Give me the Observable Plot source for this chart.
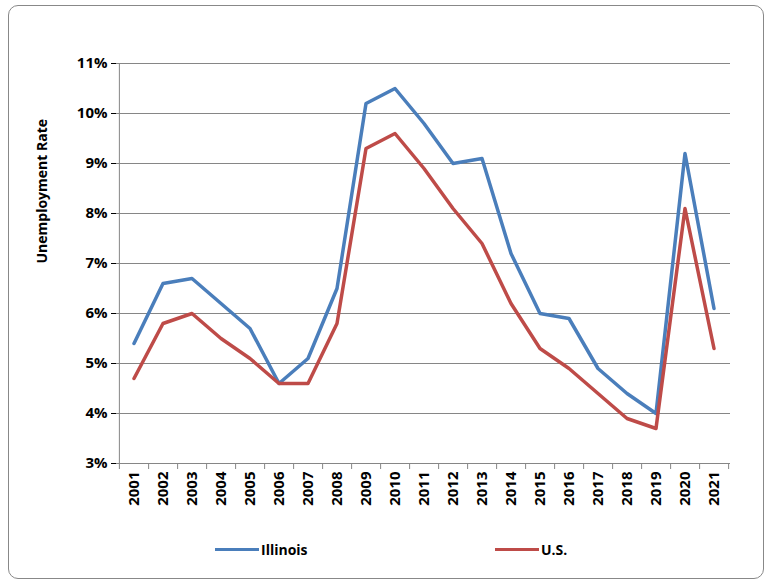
<!DOCTYPE html>
<html><head><meta charset="utf-8">
<script src="https://cdn.jsdelivr.net/npm/d3@7"></script>
<script src="https://cdn.jsdelivr.net/npm/@observablehq/plot@0.6"></script>
<style>
body{margin:0;background:#fff;font-family:"Open Sans","Liberation Sans",Arial,sans-serif;}
#wrap{position:relative;width:770px;height:585px;}
#frame{position:absolute;left:8px;top:5px;width:756px;height:574px;border:1px solid #888;border-radius:10px;box-sizing:border-box;}
.leg{position:absolute;top:540px;font-size:14px;font-weight:bold;display:flex;align-items:center;}
.leg span.sw{display:inline-block;width:44px;height:3px;margin-right:2px;}
</style></head><body>
<div id="wrap"><div id="frame"></div></div>
<script>
const years = d3.range(2001, 2022).map(String);
const illinois = [5.4,6.6,6.7,6.2,5.7,4.6,5.1,6.5,10.2,10.5,9.8,9.0,9.1,7.2,6.0,5.9,4.9,4.4,4.0,9.2,6.1];
const us = [4.7,5.8,6.0,5.5,5.1,4.6,4.6,5.8,9.3,9.6,8.9,8.1,7.4,6.2,5.3,4.9,4.4,3.9,3.7,8.1,5.3];
const series = [
  {name:"Illinois", values:illinois, color:"#4a7ebb"},
  {name:"U.S.", values:us, color:"#be4b48"}
];
const rows = series.flatMap(s => s.values.map((v,i) => ({year:years[i], value:v, name:s.name})));
const half = 614/21/2;

const svg = Plot.plot({
  width:770, height:585,
  marginLeft:116, marginRight:40, marginTop:63, marginBottom:122,
  style:{fontFamily:"'Open Sans','Liberation Sans',Arial,sans-serif", fontSize:"15px", fontWeight:"bold", color:"#000", background:"transparent", overflow:"visible"},
  x:{type:"band", domain:years, padding:0, label:null},
  y:{domain:[3,11], ticks:d3.range(3,12), label:null},
  color:{domain:series.map(s=>s.name), range:series.map(s=>s.color)},
  marks:[
    Plot.gridY(d3.range(4,12), {stroke:"#868686", strokeOpacity:1, strokeWidth:1}),
    Plot.axisY({ticks:d3.range(3,12), tickFormat:d=>d+"%", tickSize:5, fontSize:15, fontWeight:"bold"}),
    Plot.ruleX([0], {x:()=>years[0], dx:-half, y1:3, y2:11, stroke:"#868686", clip:false}),
    Plot.ruleY([3], {stroke:"#868686"}),
    Plot.ruleX(years, {x:d=>d, dx:half, y1:3, y2:2.88, stroke:"#868686"}),
    Plot.ruleX([0], {x:()=>years[0], dx:-half, y1:3, y2:2.88, stroke:"#868686"}),
    Plot.axisX({tickSize:0, tickRotate:-90, tickPadding:8, fontSize:15, fontWeight:"bold", textAnchor:"end"}),
    Plot.line(rows, {x:"year", y:"value", z:"name", stroke:"name", strokeWidth:3.5, curve:"linear"}),
    Plot.text(["Unemployment Rate"], {frameAnchor:"left", dx:-74, rotate:-90, fontSize:14, fontWeight:"bold"})
  ]
});
const wrap = document.getElementById("wrap");
svg.style.position="absolute"; svg.style.left="0"; svg.style.top="0";
wrap.appendChild(svg);
const legX = [215, 495];
series.forEach((s,i)=>{
  const d = document.createElement("div");
  d.className="leg"; d.style.left=legX[i]+"px";
  d.innerHTML = `<span class="sw" style="background:${s.color}"></span>${s.name}`;
  wrap.appendChild(d);
});
</script></body></html>
